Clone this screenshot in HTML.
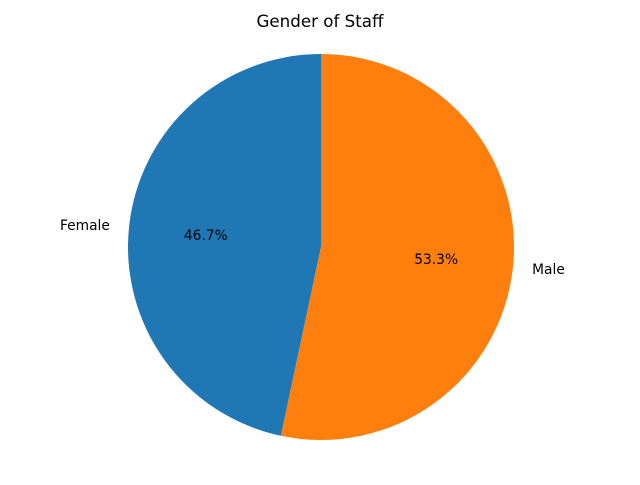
<!DOCTYPE html>
<html><head><meta charset="utf-8"><style>
body{margin:0;background:#fff}
svg text{font-family:"DejaVu Sans","Liberation Sans",sans-serif}
</style></head><body>
<svg id="chart" width="640" height="480" xmlns="http://www.w3.org/2000/svg">
<text x="320" y="27" text-anchor="middle" font-size="16.7">Gender of Staff</text>
<g id="slices"></g>
</svg>
<script>
const categories = ["Female", "Male"];
const values = [7, 8];
const colors = ["#1f77b4", "#ff7f0e"];
const cx = 321, cy = 247, r = 193;
const g = document.getElementById('slices');
const ns = "http://www.w3.org/2000/svg";
const total = values.reduce((a,b)=>a+b,0);
let start = 90;
function pt(deg, rad){ return [cx + rad*Math.cos(deg*Math.PI/180), cy - rad*Math.sin(deg*Math.PI/180)]; }
values.forEach((v,i)=>{
  const sweep = v/total*360;
  const end = start + sweep;
  const [x1,y1] = pt(start, r), [x2,y2] = pt(end, r);
  const large = sweep > 180 ? 1 : 0;
  const p = document.createElementNS(ns,'path');
  p.setAttribute('d', `M${cx},${cy} L${x1},${y1} A${r},${r} 0 ${large} 0 ${x2},${y2} Z`);
  p.setAttribute('fill', colors[i]);
  
  
  g.appendChild(p);
  const mid = start + sweep/2;
  const [lx,ly] = pt(mid, 1.1*r);
  const t = document.createElementNS(ns,'text');
  t.setAttribute('x', lx); t.setAttribute('y', ly + 5);
  t.setAttribute('font-size', '13.8');
  t.setAttribute('text-anchor', Math.cos(mid*Math.PI/180) < 0 ? 'end' : 'start');
  t.textContent = categories[i];
  
  
  g.appendChild(t);
  const [px,py] = pt(mid, 0.6*r);
  const pctText = document.createElementNS(ns,'text');
  pctText.setAttribute('x', px); pctText.setAttribute('y', py + 5);
  pctText.setAttribute('font-size', '13.8');
  pctText.setAttribute('text-anchor', 'middle');
  pctText.textContent = (v/total*100).toFixed(1) + '%';
  
  
  g.appendChild(pctText);
  start = end;
});
</script>
</body></html>
